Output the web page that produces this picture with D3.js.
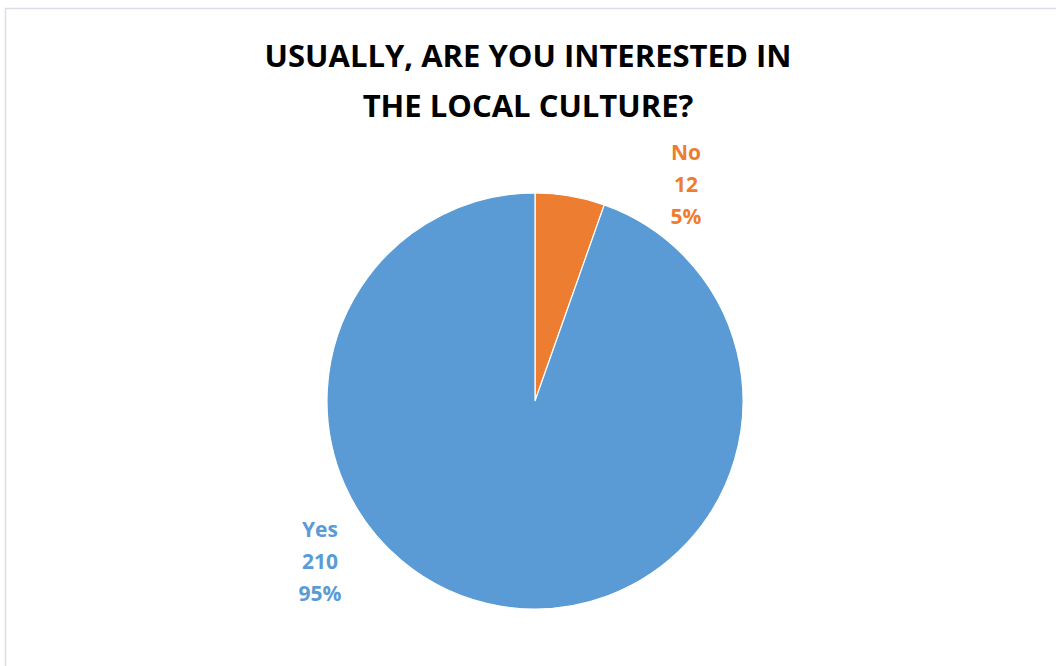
<!DOCTYPE html>
<html lang="en">
<head>
<meta charset="utf-8">
<title>Interest in local culture</title>
<script src="https://cdn.jsdelivr.net/npm/d3@7"></script>
<style>
  body { margin: 0; background: #fff; }
  svg text { font-family: "Open Sans", "Noto Sans", sans-serif; font-weight: bold; }
</style>
</head>
<body>
<script>
// data
var categories = ["Yes", "No"];
var counts = [210, 12];
var colors = ["#5B9BD5", "#ED7D31"];
var titleLines = ["USUALLY, ARE YOU INTERESTED IN", "THE LOCAL CULTURE?"];

var w = 1056, h = 666;
var cx = 535, cy = 401, r = 208;

var svg = d3.select("body").append("svg")
  .attr("width", w)
  .attr("height", h);

// chart frame
svg.append("rect")
  .attr("x", 5.5).attr("y", 8.5)
  .attr("width", w + 10).attr("height", h + 10)
  .attr("fill", "#fff")
  .attr("stroke", "#d9dde6")
  .attr("stroke-width", 1.5);

// title
svg.selectAll("text.title")
  .data(titleLines)
  .enter().append("text")
  .attr("class", "title")
  .attr("x", 528)
  .attr("y", (d, i) => 67 + i * 50)
  .attr("text-anchor", "middle")
  .attr("font-size", 31)
  .attr("fill", "#000")
  .text(d => d);

var data = categories.map((c, i) => ({ name: c, value: counts[i], color: colors[i] }));
var total = d3.sum(counts);

// No slice starts at 12 o'clock, then Yes
var pie = d3.pie()
  .value(d => d.value)
  .sort(null)
  .startAngle(0);
var arcs = pie([data[1], data[0]]);

var arc = d3.arc().innerRadius(0).outerRadius(r);

var g = svg.append("g").attr("transform", "translate(" + cx + "," + cy + ")");

g.selectAll("path")
  .data(arcs)
  .enter().append("path")
  .attr("d", arc)
  .attr("fill", d => d.data.color)
  .attr("stroke", "#fff")
  .attr("stroke-width", 1.2);

// data labels
var labelPos = { "No": [686, 160], "Yes": [320, 537] };

data.forEach(d => {
  var p = labelPos[d.name];
  var lines = [d.name, d.value, Math.round(d.value / total * 100) + "%"];
  svg.append("g").selectAll("text")
    .data(lines)
    .enter().append("text")
    .attr("x", p[0])
    .attr("y", (t, i) => p[1] + i * 32)
    .attr("text-anchor", "middle")
    .attr("font-size", 21)
    .attr("fill", d.color)
    .text(t => t);
});
</script>
</body>
</html>
